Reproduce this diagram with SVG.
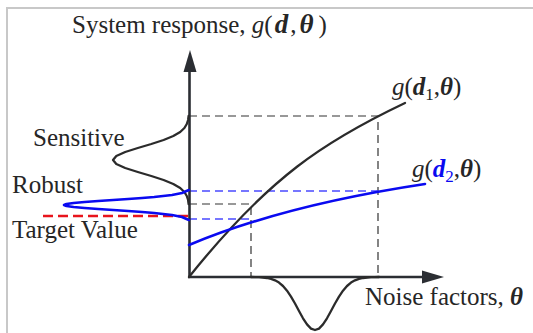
<svg xmlns="http://www.w3.org/2000/svg" width="533" height="333" viewBox="0 0 533 333">
<style>
text{font-family:"Liberation Serif","Times New Roman",serif;font-size:25px;fill:#262626}
.it{font-style:italic}
.bi{font-style:italic;font-weight:bold}
.sub{font-size:17px}
.axis{stroke:#2b2e33;stroke-width:2.6;fill:none}
.curve{stroke:#2b2b2b;stroke-width:2.3;fill:none;stroke-linejoin:round;stroke-linecap:round}
.bcurve{stroke:#0a0af0;stroke-width:2.6;fill:none;stroke-linejoin:round;stroke-linecap:round}
.dk{stroke:#333;stroke-width:1.2;stroke-dasharray:8 5;fill:none}
.db{stroke:#4a4aff;stroke-width:1.3;stroke-dasharray:8 5;fill:none}
.dr{stroke:#e8141c;stroke-width:2.6;stroke-dasharray:10 5;fill:none}
</style>
<rect x="0" y="0" width="533" height="333" fill="#fff"/>
<path d="M7,333 V8 H533" fill="none" stroke="#c8c8c8" stroke-width="2"/>

<g id="connectors">
  <path class="dk" d="M189,116 H378 V277"/>
  <path class="dk" d="M189,204 H251 V277"/>
  <path class="db" d="M189,191 H378"/>
  <path class="db" d="M189,219 H251"/>
  <path class="dr" d="M43,216 H189"/>
</g>

<g id="axes">
  <path class="axis" d="M189.5,277 V70"/>
  <polygon points="190,50 183.5,72 196.5,72" fill="#2b2e33"/>
  <path class="axis" d="M188,277 H424"/>
  <polygon points="444,277 422,270.5 422,283.5" fill="#2b2e33"/>
</g>

<g id="curve-d1">
  <path class="curve" d="M189,277 C269,177 325,141 405,103"/>
</g>
<g id="curve-d2">
  <path class="bcurve" d="M189,245 C259,215.6 345,196 425,184"/>
</g>

<g id="dist-sensitive">
  <path class="curve" d="M188.6,116 L188.1,120 L186.8,124 L184.4,128 L180.2,132 L173.3,136 L163.6,140 L151.3,144 L137.8,148 L125.2,152 L116.3,156 L113,160 L116.3,164 L125.2,168 L137.8,172 L151.3,176 L163.6,180 L173.3,184 L180.2,188 L184.4,192 L186.8,196 L188.1,200 L188.6,204"/>
</g>
<g id="dist-robust">
  <path class="bcurve" d="M189,190 L186.5,191 L182,193 L172,195 L154.2,197 L142.1,198 L128.1,199 L113.2,200 L98.2,201 L84.6,202 L73.6,203 L66.5,204 L64,205 L66.5,206 L73.6,207 L84.6,208 L98.2,209 L113.2,210 L128.1,211 L142.1,212 L154.2,213 L172,215 L182,217 L186.5,219 L189,220"/>
</g>
<g id="dist-noise">
  <path class="curve" d="M251,277 L255,277.1 L259,277.2 L263,277.5 L267,278 L271,278.9 L275,280.3 L279,282.6 L283,286 L287,290.7 L291,296.6 L295,303.5 L299,311 L303,318.3 L307,324.4 L311,328.6 L315,330 L319,328.6 L323,324.4 L327,318.3 L331,311 L335,303.5 L339,296.6 L343,290.7 L347,286 L351,282.6 L355,280.3 L359,278.9 L363,278 L367,277.5 L371,277.2 L375,277.1 L379,277"/>
</g>

<g id="labels">
  <text x="72" y="33">System response, <tspan class="it">g</tspan>(<tspan class="bi" dx="2" font-size="27">d</tspan><tspan dx="2">,</tspan><tspan class="bi" dx="3" font-size="27">θ</tspan><tspan dx="5">)</tspan></text>
  <text x="33" y="146">Sensitive</text>
  <text x="12" y="193">Robust</text>
  <text x="12" y="238">Target Value</text>
  <text x="365" y="305">Noise factors, <tspan class="bi">θ</tspan></text>
  <text x="392" y="95"><tspan class="it">g</tspan>(<tspan class="bi">d</tspan><tspan class="sub" dy="5">1</tspan><tspan dy="-5">,</tspan><tspan class="bi">θ</tspan>)</text>
  <text x="412" y="177"><tspan class="it">g</tspan>(<tspan class="bi" fill="#0a0af0">d</tspan><tspan class="sub" dy="5" fill="#0a0af0">2</tspan><tspan dy="-5">,</tspan><tspan class="bi">θ</tspan>)</text>
</g>
</svg>
